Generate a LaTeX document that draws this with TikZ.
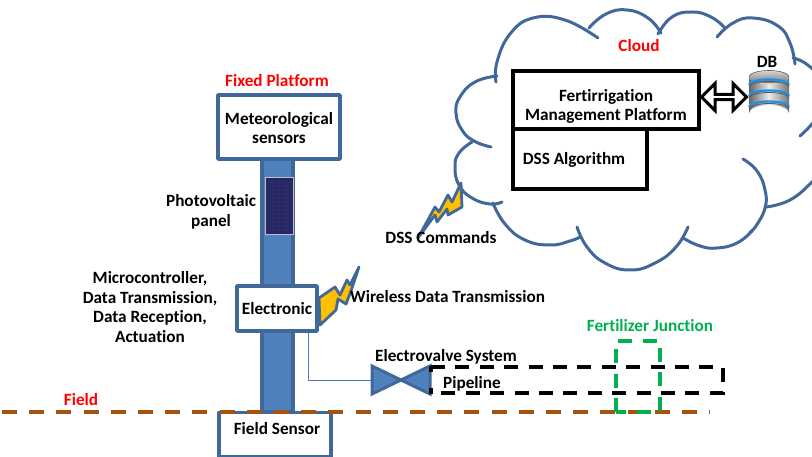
\documentclass[tikz,border=0pt]{standalone}
\usepackage{fontspec}
\setmainfont[Ligatures=NoCommon]{Carlito}
\usetikzlibrary{shapes.arrows,calc}
\definecolor{bdr}{HTML}{41689A}
\definecolor{polefill}{HTML}{4F81BD}
\definecolor{boltfill}{HTML}{FFC000}
\definecolor{fieldbrown}{HTML}{A5530F}
\definecolor{greenj}{HTML}{00B050}
\definecolor{wirec}{HTML}{4A7EBB}
\definecolor{dbblue}{HTML}{1E8FE6}
\tikzset{
  lbl/.style={font=\fontsize{17.2}{19.5}\selectfont\bfseries,align=center,inner sep=0pt,text=black,yshift=-1pt},
  redlbl/.style={lbl,text=red},
  bluebox/.style={draw=bdr,line width=3.6pt,fill=white,inner sep=0pt,line join=round},
  blackbox/.style={draw=black,line width=3.4pt,fill=white,inner sep=0pt},
  lobe/.style={draw=bdr,line width=3pt,line cap=round},
  bolt/.style={draw=bdr,fill=boltfill,line width=2.8pt,line join=round},
  valveside/.style={draw=bdr,fill=polefill,line width=3pt,line join=miter},
  pipe/.style={draw=black,line width=3.4pt,dash pattern=on 14pt off 10.4pt},
  fieldline/.style={draw=fieldbrown,line width=3.6pt,dash pattern=on 15pt off 12.2pt},
  greenline/.style={draw=greenj,line width=3.4pt,dash pattern=on 14pt off 10.4pt},
  wire/.style={draw=wirec,line width=1pt},
}
\begin{document}
\begin{tikzpicture}[x=1pt,y=-1pt]
\useasboundingbox (0,0) rectangle (812,457);
\clip (0,0) rectangle (812,457);
% cloud
\draw[lobe] plot[smooth,tension=0.75] coordinates {(496,82) (497,62) (510,34) (533,18) (565,20) (598,38)};
\draw[lobe] plot[smooth,tension=0.8] coordinates {(589,28) (606,14) (627,10) (648,18) (661,33)};
\draw[lobe] plot[smooth,tension=0.8] coordinates {(658,34) (672,17) (692,12) (711,17) (725,28)};
\draw[lobe] plot[smooth,tension=0.8] coordinates {(717,37) (733,23) (753,18) (778,26) (790,43) (795,64)};
\draw[lobe] plot[smooth,tension=0.8] coordinates {(793,58) (805,63) (820,76)};
\draw[lobe] plot[smooth,tension=0.8] coordinates {(820,112) (812,124) (800,136)};
\draw[lobe] plot[smooth,tension=0.8] coordinates {(743,159) (757,171) (765,190) (765,208) (756,226) (750,232)};
\draw[lobe] plot[smooth,tension=0.8] coordinates {(766,207) (790,200) (812,182) (822,170)};
\draw[lobe] plot[smooth,tension=0.8] coordinates {(683,238) (700,246) (717,248) (737,243) (752,231)};
\draw[lobe] plot[smooth,tension=0.8] coordinates {(577,227) (587,247) (605,263) (630,270) (655,263) (676,247) (688,227)};
\draw[lobe] plot[smooth,tension=0.8] coordinates {(493,203) (505,224) (525,240) (550,245) (570,241) (580,237)};
\draw[lobe] plot[smooth,tension=0.8] coordinates {(472,142) (459,153) (455,167) (459,185) (472,198) (490,204) (502,202)};
\draw[lobe] plot[smooth,tension=0.8] coordinates {(497,76) (475,82) (460,97) (456,113) (462,130) (474,141) (491,147)};
% cloud contents
\node[blackbox,minimum width=186pt,minimum height=58pt] (platform) at (606,100) {};
\node[blackbox,minimum width=134pt,minimum height=60pt] (dss) at (580,159) {};
\node[lbl,anchor=center] (platformtxt) at (606,105.5) {Fertirrigation\\Management Platform};
\node[lbl] (dsstxt) at (574,159) {DSS Algorithm};
\node[redlbl] (cloudtxt) at (639,45) {Cloud};
\node[lbl] (dbtxt) at (767,61) {DB};
% database icon
\shade[left color=black!60,right color=black!55,middle color=black!8]
  (749,77) -- (749,113) arc[start angle=180,end angle=360,x radius=20,y radius=8] -- (789,77) arc[start angle=0,end angle=180,x radius=20,y radius=7] -- cycle;
\shade[top color=black!15,bottom color=black!55] (769,77) ellipse [x radius=20,y radius=6.5];
\draw[black!65,line width=0.6pt] (749,77) arc[start angle=180,end angle=360,x radius=20,y radius=6.5];
\draw[dbblue,line width=2.2pt] (749,85) arc[start angle=180,end angle=360,x radius=20,y radius=5.5];
\draw[dbblue,line width=2.2pt] (749,96) arc[start angle=180,end angle=360,x radius=20,y radius=5.5];
\draw[dbblue,line width=2.2pt] (749,107) arc[start angle=180,end angle=360,x radius=20,y radius=5.5];
\draw[black!65,line width=0.8pt] (749,87) arc[start angle=180,end angle=360,x radius=20,y radius=5.5];
\draw[black!65,line width=0.8pt] (749,98) arc[start angle=180,end angle=360,x radius=20,y radius=5.5];
\draw[black!65,line width=0.8pt] (749,109) arc[start angle=180,end angle=360,x radius=20,y radius=5.5];
\node[double arrow,draw=black,fill=white,line width=3pt,minimum height=45pt,minimum width=27pt,double arrow head extend=6.5pt,inner sep=0pt] (dbarrow) at (724,97) {};
% pole
\node[draw=bdr,fill=polefill,line width=3.2pt,minimum width=31pt,minimum height=254pt,inner sep=0pt] (pole) at (277.5,285) {};
% solar panel
\node[draw=black!25,fill=blue!30!black!85,line width=1pt,minimum width=28pt,minimum height=57pt,inner sep=0pt] (panel) at (279,206.5) {};
\foreach \yy in {182,186,190,194,198,202,206,210,214,218,222,226,230}
  \draw[white!45!blue!40!black,line width=0.3pt] (265.5,\yy) -- (292.5,\yy);
\foreach \xx in {272,279,286}
  \draw[white!45!blue!40!black,line width=0.3pt] (\xx,178.5) -- (\xx,234.5);
% boxes
\node[bluebox,minimum width=122pt,minimum height=64pt] (meteo) at (279,127) {};
\node[lbl] (meteotxt) at (279,127) {Meteorological\\sensors};
\node[bluebox,minimum width=80pt,minimum height=45pt] (elec) at (277,308.5) {};
\node[lbl] (electxt) at (277,308) {Electronic};
\node[bluebox,minimum width=112pt,minimum height=44pt] (fsensor) at (275,434.5) {};
\node[lbl] (fstxt) at (277,428) {Field Sensor};
% valve and wire
\coordinate (valvein) at (372,380);
\draw[wire] ([xshift=31pt]elec.south) |- (valvein);
\draw[valveside] (372,366) -- (372,394) -- (401,380) -- cycle;
\draw[valveside] (430,366) -- (430,394) -- (401,380) -- cycle;
% pipeline
\draw[pipe] (431,367) -- (723,367) -- (723,393) -- (431,393);
\draw[draw=black,line width=3.4pt] (431,366) -- (431,372);
\draw[draw=black,line width=3.4pt] (431,388) -- (431,394);
% field line
\draw[fieldline] (2,412) -- (710,412);
% green junction
\draw[greenline] (616,412) -- (616,341) -- (660,341) -- (660,412) -- (616,412);
% bolts
\draw[bolt] (320,325) -- (319,298) -- (335,287) -- (340,295) -- (347,280) -- (350,285) -- (359,267) -- (351,291) -- (346,304) -- (338,299) -- (336,310) -- cycle;
\draw[bolt] (461,183) -- (462,207) -- (448,215) -- (447,209) -- (437,222) -- (435,215) -- (418,238) -- (435,207) -- (439,212) -- (448,195) -- (452,202) -- cycle;
% labels
\node[redlbl] (fixedtxt) at (277,80) {Fixed Platform};
\node[lbl] (pvtxt) at (211,211) {Photovoltaic\\panel};
\node[lbl] (mctxt) at (150,306) {Microcontroller,\\Data Transmission,\\Data Reception,\\Actuation};
\node[lbl,anchor=west] (wltxt) at (350,296) {Wireless Data Transmission};
\node[lbl] (evtxt) at (446,356) {Electrovalve System};
\node[lbl,anchor=west] (pipetxt) at (443,383) {Pipeline};
\node[redlbl] (fieldtxt) at (81,399) {Field};
\node[lbl,text=greenj] (fjtxt) at (650,325) {Fertilizer Junction};
\node[lbl] (dsscmd) at (441,237) {DSS Commands};
\end{tikzpicture}
\end{document}
